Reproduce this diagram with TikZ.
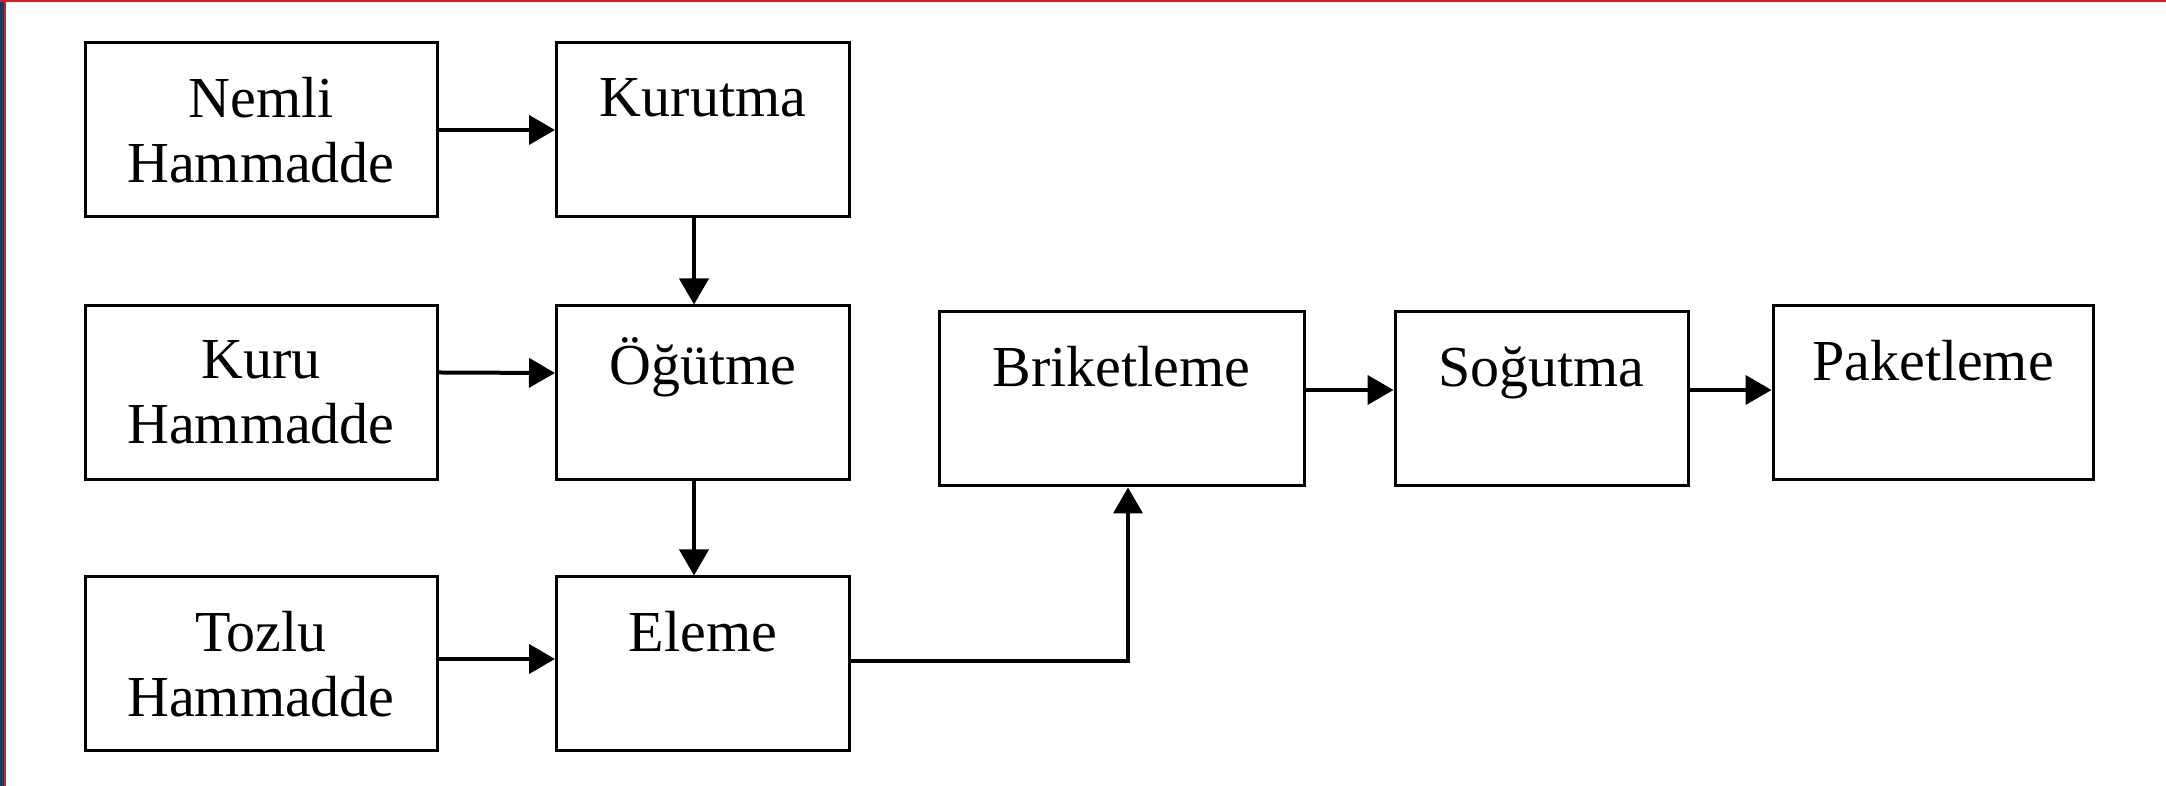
\documentclass[tikz,border=0pt]{standalone}
\usepackage{fontspec}
\setmainfont{Liberation Serif}
\usepackage{tikz}
\usetikzlibrary{arrows.meta}

\definecolor{kenarkirmizi}{RGB}{192,40,45}
\definecolor{kenarlaci}{RGB}{31,58,95}

\begin{document}
\begin{tikzpicture}[
  box/.style={draw, line width=0.03cm, minimum height=1.74cm, inner sep=0pt,
    align=center, font=\fontsize{16.5}{18.4}\selectfont},
  arr/.style={line width=0.04cm, ->},
  >={Triangle[length=0.26cm,width=0.29cm]}]
\useasboundingbox (0,0) rectangle (21.66,7.86);
% page frame
\fill[kenarlaci] (0,0) rectangle (0.04,7.86);
\fill[kenarkirmizi] (0.04,0) rectangle (0.06,7.86);
\fill[kenarkirmizi] (0,7.837) rectangle (21.66,7.86);
% raw material inputs
\node[box, minimum width=3.52cm] (nemli) at (2.61,6.56) {Nemli\\Hammadde};
\node[box, minimum width=3.52cm] (kuru) at (2.61,3.935) {Kuru\\Hammadde};
\node[box, minimum width=3.52cm] (tozlu) at (2.61,1.22) {Tozlu\\Hammadde};
% process steps
\node[box, minimum width=2.93cm] (kurutma) at (7.03,6.56) {Kurutma\\~};
\node[box, minimum width=2.93cm] (ogutme) at (7.03,3.93) {Öğütme\\~};
\node[box, minimum width=2.93cm] (eleme) at (7.03,1.22) {Eleme\\~};
\node[box, minimum width=3.65cm] (briket) at (11.215,3.87) {Briketleme\\~};
\node[box, minimum width=2.93cm] (sogutma) at (15.415,3.87) {Soğutma\\~};
\node[box, minimum width=3.20cm] (paket) at (19.33,3.93) {Paketleme\\~};
% flow
\draw[arr] (nemli.east) -- (kurutma.west);
\draw[arr] ([xshift=-0.09cm]kurutma.south) -- ([xshift=-0.09cm]ogutme.north);
\draw[arr] ([yshift=0.2cm]kuru.east) -- ([yshift=0.2cm]ogutme.west);
\draw[arr] ([xshift=-0.09cm]ogutme.south) -- ([xshift=-0.09cm]eleme.north);
\draw[arr] ([yshift=0.05cm]tozlu.east) -- ([yshift=0.05cm]eleme.west);
\draw[arr] ([yshift=0.03cm]eleme.east) -| ([xshift=0.065cm]briket.south);
\draw[arr] ([yshift=0.09cm]briket.east) -- ([yshift=0.09cm]sogutma.west);
\draw[arr] ([yshift=0.09cm]sogutma.east) -- ([yshift=0.03cm]paket.west);
\end{tikzpicture}
\end{document}
